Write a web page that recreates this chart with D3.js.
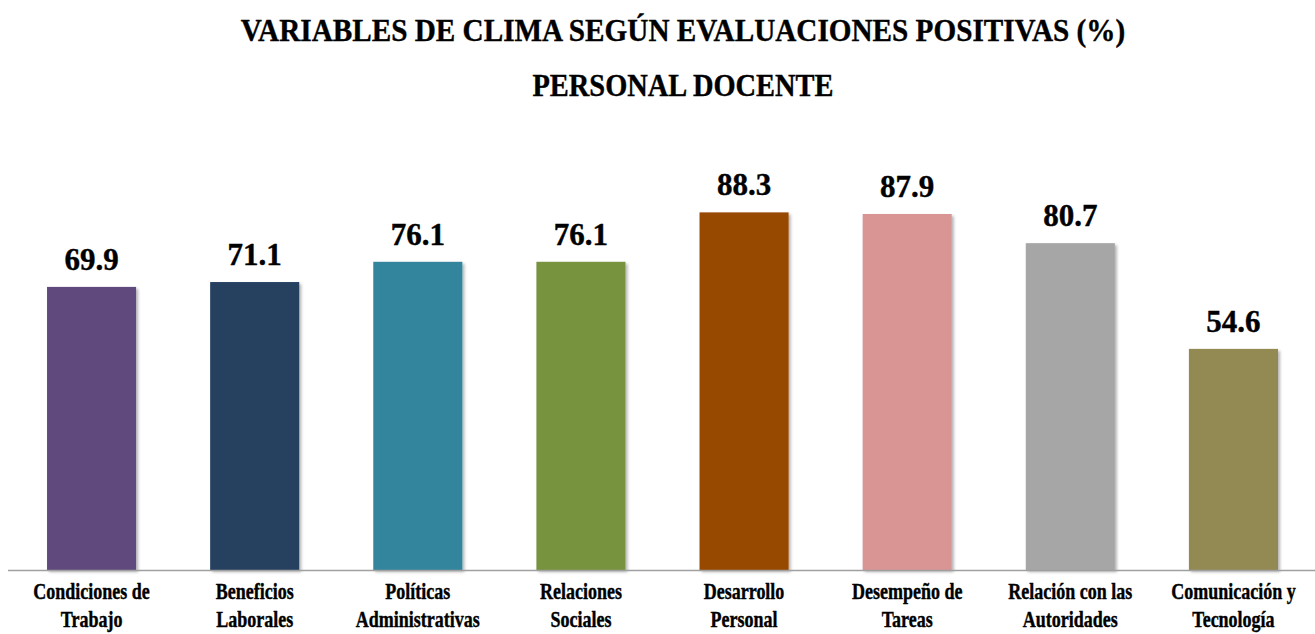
<!DOCTYPE html>
<html>
<head>
<meta charset="utf-8">
<script src="https://cdn.jsdelivr.net/npm/d3@7/dist/d3.min.js"></script>
<style>
  body { margin: 0; background: #fff; }
  svg { display: block; }
  text { font-family: "Liberation Serif", "Times New Roman", serif; font-weight: bold; fill: #000; stroke: #000; stroke-width: 0.4px; }
</style>
</head>
<body>
<svg id="chart"></svg>
<script>
// chart data
var categories = [
  ["Condiciones de", "Trabajo"],
  ["Beneficios", "Laborales"],
  ["Políticas", "Administrativas"],
  ["Relaciones", "Sociales"],
  ["Desarrollo", "Personal"],
  ["Desempeño de", "Tareas"],
  ["Relación con las", "Autoridades"],
  ["Comunicación y", "Tecnología"]
];
var values = [69.9, 71.1, 76.1, 76.1, 88.3, 87.9, 80.7, 54.6];
var colors = ["#604a7b", "#254061", "#31859c", "#77933c", "#974806", "#d99594", "#a6a6a6", "#938953"];
var titleLines = ["VARIABLES DE CLIMA SEGÚN EVALUACIONES POSITIVAS (%)", "PERSONAL DOCENTE"];
var titleSqueeze = [0.913, 0.889];

var width = 1315, height = 634;
var margin = { top: 165, right: 0, bottom: 64, left: 10 };
var titleCenter = 683;

var svg = d3.select("#chart")
    .attr("width", width)
    .attr("height", height);

var defs = svg.append("defs");
var shadow = defs.append("filter")
    .attr("id", "shadow")
    .attr("x", "-10%").attr("y", "-10%")
    .attr("width", "130%").attr("height", "130%");
shadow.append("feDropShadow")
    .attr("dx", 2).attr("dy", 2)
    .attr("stdDeviation", 1.6)
    .attr("flood-color", "#000")
    .attr("flood-opacity", 0.3);

var x = d3.scaleBand()
    .domain(d3.range(values.length))
    .range([margin.left, width - margin.right])
    .paddingInner(0.454)
    .paddingOuter(0.227);

var y = d3.scaleLinear()
    .domain([0, 100])
    .range([height - margin.bottom, margin.top]);

// title lines, squeezed horizontally to mimic the condensed face
svg.selectAll("g.title")
    .data(titleLines)
  .enter().append("g")
    .attr("class", "title")
    .attr("transform", function(d, i) {
      return "translate(" + titleCenter + "," + (41 + i * 55) + ") scale(" + titleSqueeze[i] + ",1)";
    })
  .append("text")
    .attr("text-anchor", "middle")
    .style("font-size", "32px")
    .text(function(d) { return d; });

// bars
svg.selectAll("rect.bar")
    .data(values)
  .enter().append("rect")
    .attr("class", "bar")
    .attr("x", function(d, i) { return x(i); })
    .attr("y", function(d) { return y(d); })
    .attr("width", x.bandwidth())
    .attr("height", function(d) { return y(0) - y(d); })
    .attr("fill", function(d, i) { return colors[i]; })
    .attr("filter", "url(#shadow)");

// baseline
svg.append("line")
    .attr("x1", margin.left - 2)
    .attr("x2", width)
    .attr("y1", y(0) + 0.5)
    .attr("y2", y(0) + 0.5)
    .attr("stroke", "#a0a0a0")
    .attr("stroke-width", 1.6);

// value labels
svg.selectAll("text.value")
    .data(values)
  .enter().append("text")
    .attr("class", "value")
    .attr("x", function(d, i) { return x(i) + x.bandwidth() / 2; })
    .attr("y", function(d) { return y(d) - 17; })
    .attr("text-anchor", "middle")
    .style("font-size", "31px")
    .text(function(d) { return d.toFixed(1); });

// category labels
var catG = svg.selectAll("g.cat")
    .data(categories)
  .enter().append("g")
    .attr("class", "cat")
    .attr("transform", function(d, i) {
      return "translate(" + (x(i) + x.bandwidth() / 2) + "," + (y(0) + 29) + ") scale(0.8,1)";
    });

catG.selectAll("text")
    .data(function(d) { return d; })
  .enter().append("text")
    .attr("x", 0)
    .attr("y", function(d, i) { return i * 28; })
    .attr("text-anchor", "middle")
    .style("font-size", "22.5px")
    .text(function(d) { return d; });
</script>
</body>
</html>
